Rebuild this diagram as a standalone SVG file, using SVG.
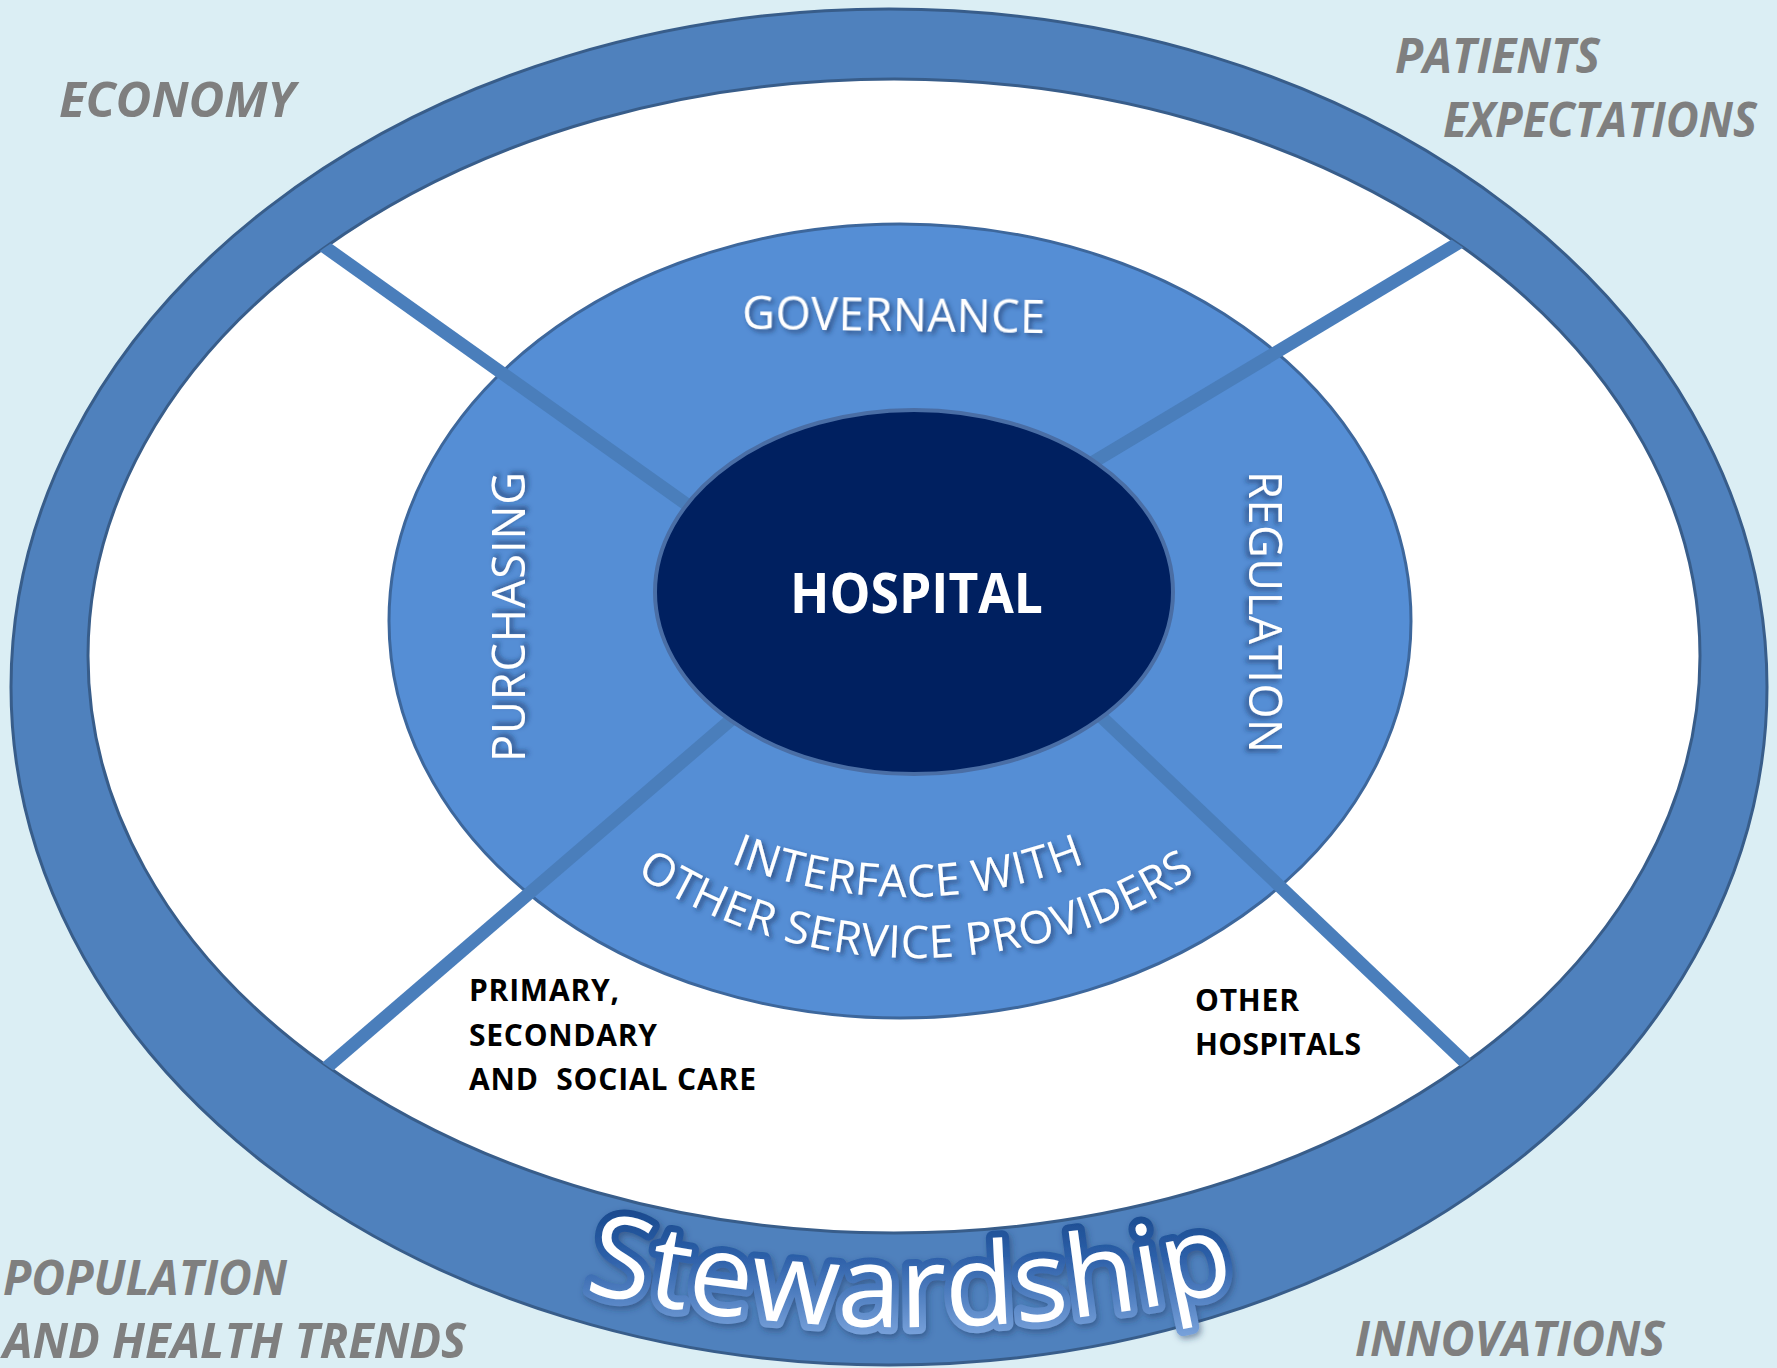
<svg xmlns="http://www.w3.org/2000/svg" width="1777" height="1368" viewBox="0 0 1777 1368">
  <style>
    .ext { font-family: "Open Sans", "Liberation Sans", sans-serif; font-weight: bold; font-style: italic; font-size: 49px; fill: #7f7f7f; }
    .blk { font-family: "Open Sans", "Liberation Sans", sans-serif; font-weight: bold; font-size: 30px; fill: #000000; }
    .wht { font-family: "Open Sans", "Liberation Sans", sans-serif; font-size: 45px; fill: #ffffff; filter: url(#shadow); }
    .spoke { stroke: #4a7ebb; stroke-width: 13; fill: none; }
  </style>
  <defs>
    <filter id="shadow" x="-20%" y="-30%" width="140%" height="160%">
      <feDropShadow dx="3" dy="3" stdDeviation="2.5" flood-color="#1a3560" flood-opacity="0.7"/>
    </filter>
    <filter id="glow" x="-10%" y="-20%" width="120%" height="140%">
      <feDropShadow dx="2" dy="3" stdDeviation="3" flood-color="#1a3560" flood-opacity="0.5"/>
    </filter>
    <linearGradient id="stewGrad" x1="0" y1="0" x2="0" y2="1">
      <stop offset="0" stop-color="#0a3878"/>
      <stop offset="0.45" stop-color="#2c5fa8"/>
      <stop offset="1" stop-color="#8fb6ea"/>
    </linearGradient>
    <clipPath id="whiteClip">
      <ellipse cx="894" cy="656" rx="806" ry="577"/>
    </clipPath>
    <path id="stewPath" d="M 480 1264.4 A 1488 1488 0 0 0 1340 1262.6"/>
    <path id="ifPath" d="M 640 815.2 A 480 480 0 0 0 1176 815.2"/>
    <path id="osPath" d="M 566 818.9 A 510 510 0 0 0 1266 818.9"/>
  </defs>

  <rect id="background" x="0" y="0" width="1777" height="1368" fill="#dbeef4"/>

  <g id="environment">
    <text class="ext" x="59" y="117" textLength="236" lengthAdjust="spacingAndGlyphs">ECONOMY</text>
    <text class="ext" x="1395" y="73" textLength="205" lengthAdjust="spacingAndGlyphs">PATIENTS</text>
    <text class="ext" x="1443" y="137" textLength="314" lengthAdjust="spacingAndGlyphs">EXPECTATIONS</text>
    <text class="ext" x="3" y="1295" textLength="284" lengthAdjust="spacingAndGlyphs">POPULATION</text>
    <text class="ext" x="3" y="1358" textLength="463" lengthAdjust="spacingAndGlyphs">AND HEALTH TRENDS</text>
    <text class="ext" x="1355" y="1356" textLength="310" lengthAdjust="spacingAndGlyphs">INNOVATIONS</text>
  </g>

  <g id="stewardship">
    <ellipse cx="889" cy="687" rx="878" ry="678" fill="#4f81bd" stroke="#385d8a" stroke-width="3"/>
    <ellipse cx="894" cy="656" rx="806" ry="577" fill="#ffffff" stroke="#385d8a" stroke-width="3"/>
    <text font-family="'Open Sans', 'Liberation Sans', sans-serif" font-size="114" fill="#ffffff" stroke="url(#stewGrad)" stroke-width="14" stroke-linejoin="round" paint-order="stroke fill" filter="url(#glow)"><textPath href="#stewPath" startOffset="50%" text-anchor="middle">Stewardship</textPath></text>
  </g>

  <g id="middle-ring">
    <ellipse cx="900" cy="621" rx="511" ry="397" fill="#558ed5" stroke="#3d679c" stroke-width="3"/>
  </g>

  <g id="connectors" clip-path="url(#whiteClip)">
    <line class="spoke" x1="280" y1="215" x2="800" y2="585"/>
    <line class="spoke" x1="1510" y1="212" x2="950" y2="548"/>
    <line class="spoke" x1="290" y1="1099" x2="840" y2="626"/>
    <line class="spoke" x1="1510" y1="1105" x2="990" y2="611"/>
  </g>

  <g id="hospital">
    <ellipse cx="914" cy="592" rx="259" ry="182" fill="#002060" stroke="#4a6ea5" stroke-width="4"/>
    <text x="790" y="613" font-family="'Open Sans', 'Liberation Sans', sans-serif" font-weight="bold" font-size="56" fill="#ffffff" textLength="253" lengthAdjust="spacingAndGlyphs">HOSPITAL</text>
  </g>

  <g id="governance">
    <text class="wht" x="742" y="331" font-size="44" textLength="303" transform="rotate(0.8 895 330)">GOVERNANCE</text>
  </g>
  <g id="purchasing">
    <text class="wht" font-size="52" text-anchor="middle" textLength="290" transform="translate(525 617) rotate(-90)">PURCHASING</text>
  </g>
  <g id="regulation">
    <text class="wht" font-size="50" text-anchor="middle" textLength="282" transform="translate(1249 612) rotate(90)">REGULATION</text>
  </g>
  <g id="interface">
    <text class="wht" letter-spacing="0.8"><textPath href="#ifPath" startOffset="50%" text-anchor="middle">INTERFACE WITH</textPath></text>
    <text class="wht" font-size="44" letter-spacing="0.6"><textPath href="#osPath" startOffset="50%" text-anchor="middle">OTHER SERVICE PROVIDERS</textPath></text>
  </g>

  <g id="primary-care">
    <text class="blk" x="469" y="1001" textLength="150">PRIMARY,</text>
    <text class="blk" x="469" y="1046" textLength="188">SECONDARY</text>
    <text class="blk" x="469" y="1090" textLength="287" xml:space="preserve">AND  SOCIAL CARE</text>
  </g>
  <g id="other-hospitals">
    <text class="blk" x="1195" y="1011" textLength="104">OTHER</text>
    <text class="blk" x="1195" y="1055" textLength="166">HOSPITALS</text>
  </g>
</svg>
